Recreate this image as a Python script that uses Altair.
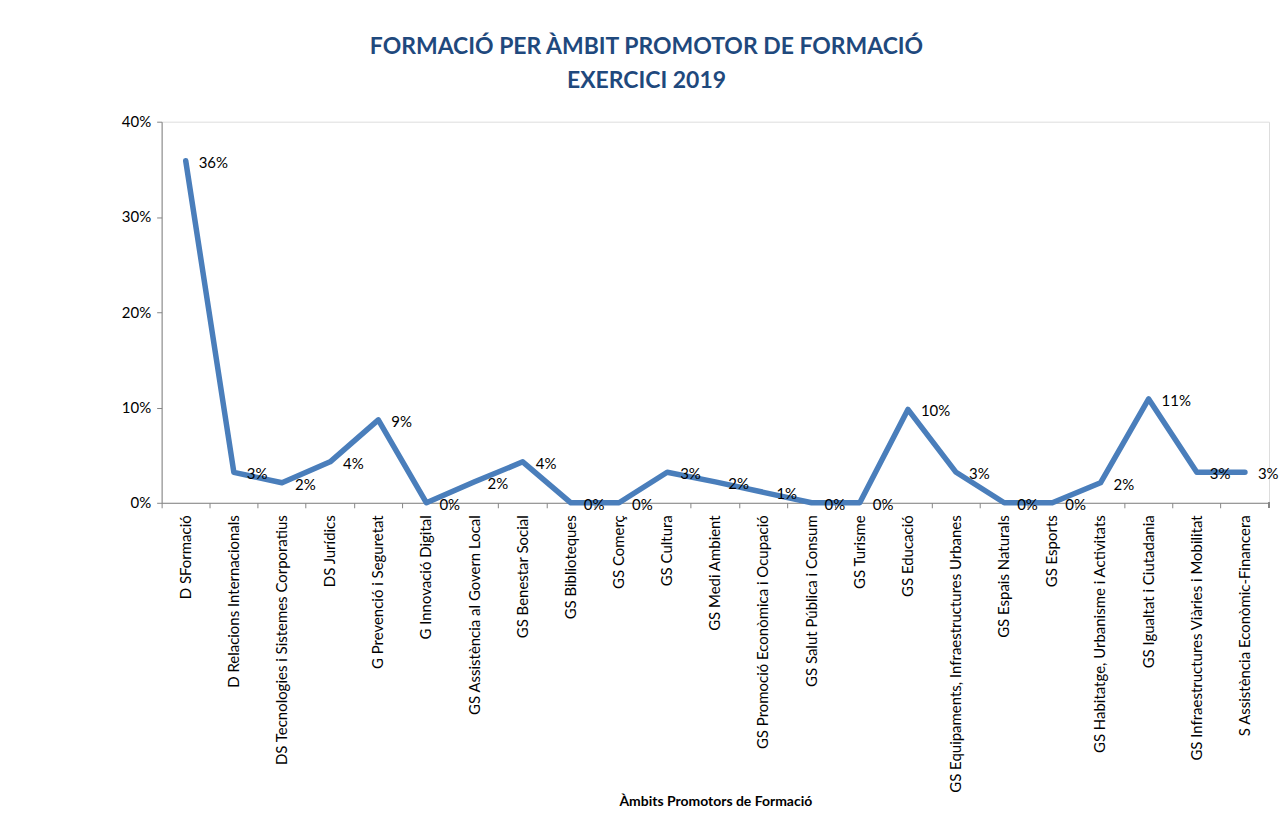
import altair as alt
import pandas as pd

categories = [
    "D SFormació", "D Relacions Internacionals", "DS Tecnologies i Sistemes Corporatius",
    "DS Jurídics", "G Prevenció i Seguretat", "G Innovació Digital",
    "GS Assistència al Govern Local", "GS Benestar Social", "GS Biblioteques", "GS Comerç",
    "GS Cultura", "GS Medi Ambient", "GS Promoció Econòmica i Ocupació",
    "GS Salut Pública i Consum", "GS Turisme", "GS Educació",
    "GS Equipaments, Infraestructures Urbanes", "GS Espais Naturals", "GS Esports",
    "GS Habitatge, Urbanisme i Activitats", "GS Igualtat i Ciutadania",
    "GS Infraestructures Viàries i Mobilitat", "S Assistència Econòmic-Financera",
]
values = [0.359, 0.032, 0.021, 0.043, 0.087, 0.0, 0.022, 0.043, 0.0, 0.0,
          0.032, 0.022, 0.011, 0.0, 0.0, 0.098, 0.032, 0.0, 0.0,
          0.021, 0.109, 0.032, 0.032]
title_lines = ["FORMACIÓ PER ÀMBIT PROMOTOR DE FORMACIÓ", "EXERCICI 2019"]
x_title = "Àmbits Promotors de Formació"

df = pd.DataFrame({"cat": categories, "val": values})

FONT = "Lato"
GRAY = "#868686"
xscale = alt.Scale(type="band", domain=categories, paddingInner=0, paddingOuter=0)

line = alt.Chart(df).mark_line(color="#4A7EBB", strokeWidth=5.5, strokeJoin="round", strokeCap="round").encode(
    x=alt.X("cat:N", scale=xscale, sort=None, bandPosition=0.5,
            axis=alt.Axis(title=x_title, orient="bottom", labelAngle=-90, labelFontSize=15,
                          labelFont=FONT, labelColor="black", ticks=False, domain=False,
                          labelPadding=12, titleFont=FONT, titleFontSize=14,
                          titleFontWeight="bold", titleColor="black", titleY=299,
                          titleBaseline="middle", labelLimit=400)),
    y=alt.Y("val:Q", scale=alt.Scale(domain=[0, 0.4]),
            axis=alt.Axis(format=".0%", values=[0, 0.1, 0.2, 0.3, 0.4], grid=False,
                          domainColor=GRAY, tickColor=GRAY, tickSize=5,
                          labelFont=FONT, labelFontSize=15, labelColor="black",
                          labelPadding=6, title=None)),
)

labels = alt.Chart(df).mark_text(align="left", baseline="middle", dx=13, dy=2,
                                 font=FONT, fontSize=15, color="black").encode(
    x=alt.X("cat:N", scale=xscale, sort=None, bandPosition=0.5,
            axis=alt.Axis(title=None, orient="bottom", labels=False, bandPosition=0,
                          ticks=True, tickSize=5, tickColor=GRAY, domainColor=GRAY)),
    y=alt.Y("val:Q", scale=alt.Scale(domain=[0, 0.4])),
    text=alt.Text("val:Q", format=".0%"),
)

end_tick = alt.Chart(df).mark_rule(color=GRAY, strokeWidth=1).encode(
    x=alt.value(1110), y=alt.value(382), y2=alt.value(387))

chart = alt.layer(line, labels, end_tick).resolve_axis(x="independent").properties(
    width=1110, height=382,
    title=alt.TitleParams(text=title_lines, font=FONT, fontSize=23, fontWeight="bold",
                          color="#1F497D", anchor="middle", dx=-69, offset=22, lineHeight=34),
    padding={"left": 154, "top": 113, "right": 10, "bottom": 320},
    autosize=alt.AutoSizeParams(type="none"),
).configure_view(stroke=None).configure(background="white")

chart.save("out.html", embed_options={"renderer": "svg", "actions": False})
